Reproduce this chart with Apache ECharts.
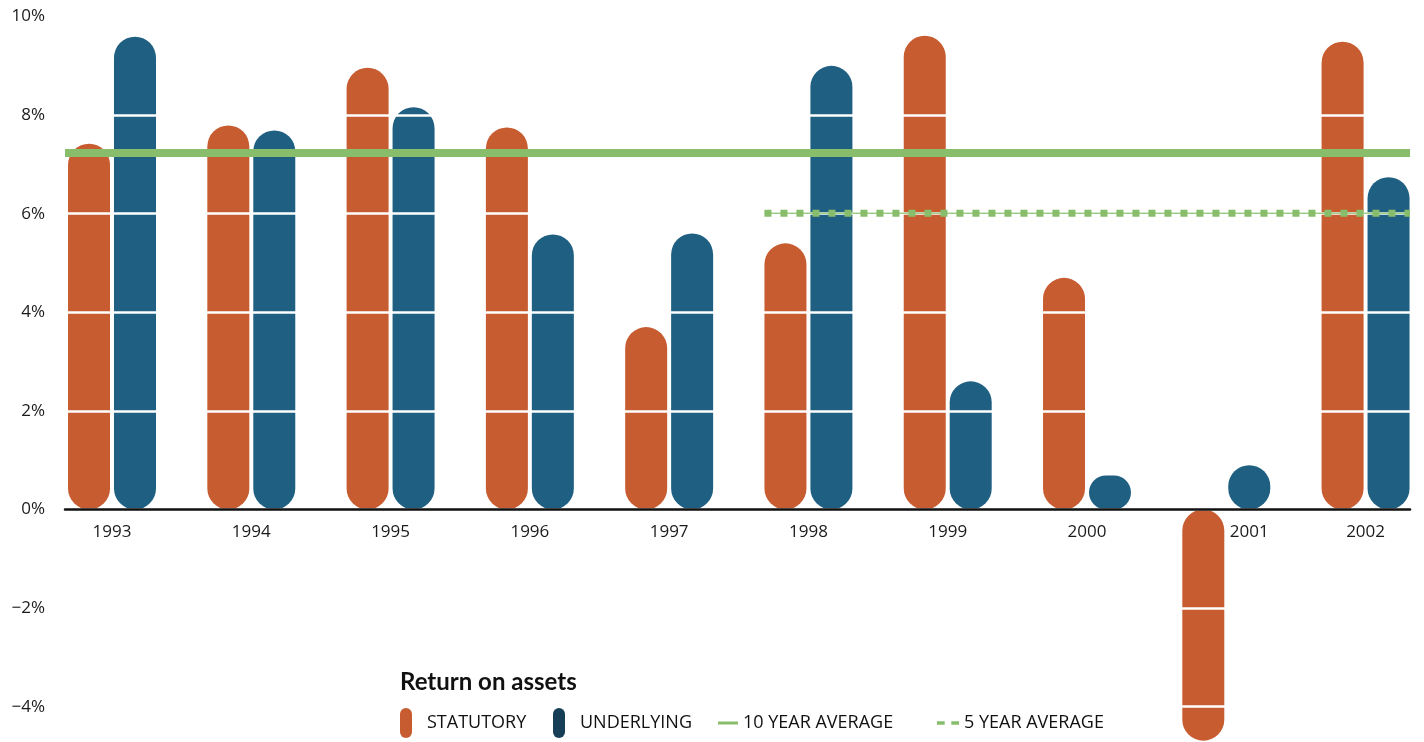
<!DOCTYPE html>
<html><head><meta charset="utf-8">
<script src="https://cdn.jsdelivr.net/npm/echarts@6/dist/echarts.min.js"></script>
<style>html,body{margin:0;padding:0;background:#fff}#c{width:1424px;height:742px}</style>
</head><body><div id="c"></div>
<script>
// ---- data ----
const years = ['1993','1994','1995','1996','1997','1998','1999','2000','2001','2002'];
const statutory = [7.42, 7.79, 8.96, 7.75, 3.70, 5.40, 9.61, 4.70, -4.69, 9.49];
const underlying = [9.59, 7.69, 8.16, 5.58, 5.60, 9.00, 2.60, 0.69, 0.90, 6.74];
const tenYearAverage = 7.23;
const fiveYearAverage = 6.01;
const fiveYearFrom = '1998';
const yMin = -4, yMax = 10, yStep = 2;

// ---- layout ----
const xMin = -0.3375, xMax = 9.319;
const barOffset = 0.165;          // half distance between the paired bars (category units)
const barWidthPx = 42;
const halfBarUnits = 21 / 139.28;
const fiveStart = years.indexOf(fiveYearFrom) - barOffset - halfBarUnits;
// 2001 label sits under the positive bar because the negative bar crosses the axis
const labelPos = years.map((y, i) => (statutory[i] < 0 ? i + barOffset : i));
const gridTop = 16.5, gridBottom = 35.3, chartH = 742;
const gridH = chartH - gridTop - gridBottom;
const zeroOffset = -(0 - yMin) / (yMax - yMin) * gridH;   // lift x axis to y = 0

const ORANGE = '#C85C31', BLUE = '#1F5F82', GREEN = '#88BE6B', DARKBLUE = '#163F57';
const FONT = 'Open Sans';
const capsule = 'path://M0,6 A6,6 0 0 1 12,6 L12,24 A6,6 0 0 1 0,24 Z';
const solidIcon = 'path://M0,0 L20,0 L20,3 L0,3 Z';
const dashIcon = 'path://M0,0 L7,0 L7,3 L0,3 Z M13,0 L20,0 L20,3 L13,3 Z';

const chart = echarts.init(document.getElementById('c'), null, {renderer: 'canvas'});
const legendText = {fontFamily: FONT, fontSize: 18, color: '#111'};
chart.setOption({
  backgroundColor: '#fff',
  animation: false,
  title: {
    text: 'Return on assets', left: 400, top: 670, padding: 0,
    textStyle: {fontFamily: 'Lato', fontWeight: 'bold', fontSize: 24, color: '#111'}
  },
  legend: [
    {data: [{name: 'STATUTORY', icon: capsule}], left: 400, top: 708, padding: 0,
     itemWidth: 32, itemHeight: 30, textStyle: legendText, selectedMode: false},
    {data: [{name: 'UNDERLYING', icon: capsule, itemStyle: {color: DARKBLUE}}], left: 553, top: 708, padding: 0,
     itemWidth: 32, itemHeight: 30, textStyle: legendText, selectedMode: false},
    {data: [{name: '10 YEAR AVERAGE', icon: solidIcon, itemStyle: {color: GREEN}}], left: 718, top: 714, padding: 0,
     itemWidth: 20, itemHeight: 30, textStyle: legendText, selectedMode: false},
    {data: [{name: '5 YEAR AVERAGE', icon: dashIcon, itemStyle: {color: GREEN}}], left: 937, top: 714, padding: 0,
     itemWidth: 22, itemHeight: 30, textStyle: legendText, selectedMode: false}
  ],
  grid: {left: 65, right: 14, top: gridTop, bottom: gridBottom, outerBoundsMode: 'none', containLabel: false},
  xAxis: {
    type: 'value', min: xMin, max: xMax, z: 4, offset: zeroOffset,
    axisLine: {show: true, onZero: false, lineStyle: {color: '#111', width: 2.5}},
    axisTick: {show: false},
    splitLine: {show: false},
    axisLabel: {
      customValues: labelPos, margin: 14,
      fontFamily: FONT, fontSize: 17, color: '#1a1a1a',
      formatter: v => { const k = labelPos.findIndex(p => Math.abs(p - v) < 1e-6); return k >= 0 ? years[k] : ''; }
    }
  },
  yAxis: {
    type: 'value', min: yMin, max: yMax, interval: yStep, z: 3,
    axisLine: {show: false}, axisTick: {show: false},
    splitLine: {show: true, lineStyle: {color: '#fff', width: 2.5}},
    axisLabel: {
      margin: 20, fontFamily: FONT, fontSize: 17, color: '#1a1a1a',
      formatter: v => (v < 0 ? '\u2212' + Math.abs(v) : v) + '%'
    }
  },
  series: [
    {type: 'bar', name: 'STATUTORY', clip: false, barWidth: barWidthPx, barGap: '-100%',
     itemStyle: {color: ORANGE, borderRadius: 21},
     data: statutory.map((v, i) => [i - barOffset, v])},
    {type: 'bar', name: 'UNDERLYING', clip: false, barWidth: barWidthPx, barGap: '-100%',
     itemStyle: {color: BLUE, borderRadius: 21},
     data: underlying.map((v, i) => [i + barOffset, v])},
    {type: 'line', name: '10 YEAR AVERAGE', symbol: 'none', z: 10, silent: true,
     lineStyle: {color: GREEN, width: 8}, itemStyle: {color: GREEN},
     data: [[xMin, tenYearAverage], [xMax, tenYearAverage]]},
    {type: 'line', name: '5yr-thin', symbol: 'none', z: 9, silent: true,
     lineStyle: {color: '#9FCC87', width: 1.5},
     data: [[fiveStart, fiveYearAverage], [xMax, fiveYearAverage]]},
    {type: 'line', name: '5 YEAR AVERAGE', symbol: 'none', z: 10, silent: true,
     lineStyle: {color: GREEN, width: 7, type: [7, 9], cap: 'butt'}, itemStyle: {color: GREEN},
     data: [[fiveStart, fiveYearAverage], [xMax, fiveYearAverage]]}
  ]
});
</script>
</body></html>
